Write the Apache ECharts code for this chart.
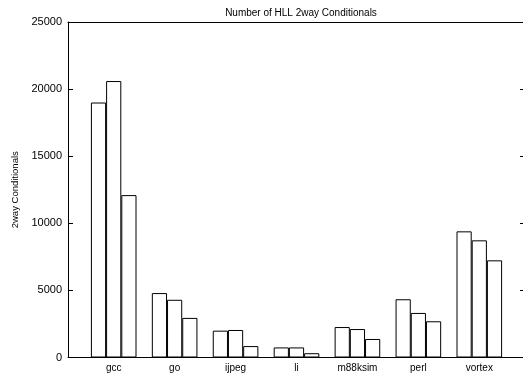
<!DOCTYPE html>
<html>
<head>
<meta charset="utf-8">
<script src="https://cdn.jsdelivr.net/npm/echarts@6/dist/echarts.min.js"></script>
<style>
html,body{margin:0;padding:0;background:#fff;}
#chart{width:523px;height:378px;}
</style>
</head>
<body>
<div id="chart"></div>
<script>
const categories = ['gcc', 'go', 'ijpeg', 'li', 'm88ksim', 'perl', 'vortex'];
const series1 = [19000, 4800, 2000, 750, 2270, 4340, 9400];
const series2 = [20600, 4300, 2050, 750, 2120, 3320, 8730];
const series3 = [12100, 2950, 850, 320, 1380, 2700, 7240];
const yTicks = [0, 5000, 10000, 15000, 20000, 25000];
const titleText = 'Number of HLL 2way Conditionals';
const yName = '2way Conditionals';

const font = 'Liberation Sans, Arial, Helvetica, sans-serif';
const chart = echarts.init(document.getElementById('chart'), null, {renderer: 'canvas'});
const catIdx = categories.map((c, i) => i);
function mk(name, vals) {
  return {
    name: name,
    type: 'bar',
    barWidth: 15.2,
    barGap: '0%',
    data: vals.map((v, i) => [i, v]),
    itemStyle: {color: '#ffffff', borderColor: '#000000', borderWidth: 1},
    emphasis: {disabled: true},
    animation: false
  };
}
chart.setOption({
  animation: false,
  backgroundColor: '#ffffff',
  textStyle: {fontFamily: font},
  title: {
    text: titleText,
    left: 296, top: 3, textAlign: 'center',
    textStyle: {fontSize: 10, fontWeight: 'normal', color: '#000', fontFamily: font}
  },
  grid: {left: 68, top: 22, width: 457, height: 335.5, containLabel: false, outerBoundsMode: 'none'},
  xAxis: [{
    type: 'value',
    min: -0.75, max: 6.75,
    axisLine: {show: true, onZero: false, lineStyle: {color: '#000', width: 1}},
    axisTick: {show: false},
    splitLine: {show: false},
    axisLabel: {
      customValues: catIdx,
      formatter: v => categories[Math.round(v)] || '',
      color: '#000', fontSize: 10, margin: 6, fontFamily: font
    }
  }, {
    type: 'value', position: 'top',
    min: -0.75, max: 6.75,
    axisLine: {show: true, onZero: false, lineStyle: {color: '#000', width: 1}},
    axisTick: {show: false}, axisLabel: {show: false}, splitLine: {show: false}
  }],
  yAxis: [{
    type: 'value', min: 0, max: 25000, interval: 5000,
    name: yName, nameLocation: 'middle', nameRotate: 90, nameGap: 47,
    nameTextStyle: {fontSize: 9.5, color: '#000', fontFamily: font},
    axisLine: {show: true, onZero: false, lineStyle: {color: '#000', width: 1}},
    axisTick: {show: true, inside: true, length: 5, lineStyle: {color: '#000'}},
    splitLine: {show: false},
    axisLabel: {color: '#000', fontSize: 11, margin: 6, fontFamily: font,
      customValues: yTicks, formatter: v => String(v)}
  }, {
    type: 'value', min: 0, max: 25000, interval: 5000, position: 'right',
    axisLine: {show: true, onZero: false, lineStyle: {color: '#000', width: 1}},
    axisTick: {show: true, inside: true, length: 5, lineStyle: {color: '#000'}},
    axisLabel: {show: false}, splitLine: {show: false}
  }],
  series: [mk('s1', series1), mk('s2', series2), mk('s3', series3)]
});
</script>
</body>
</html>
